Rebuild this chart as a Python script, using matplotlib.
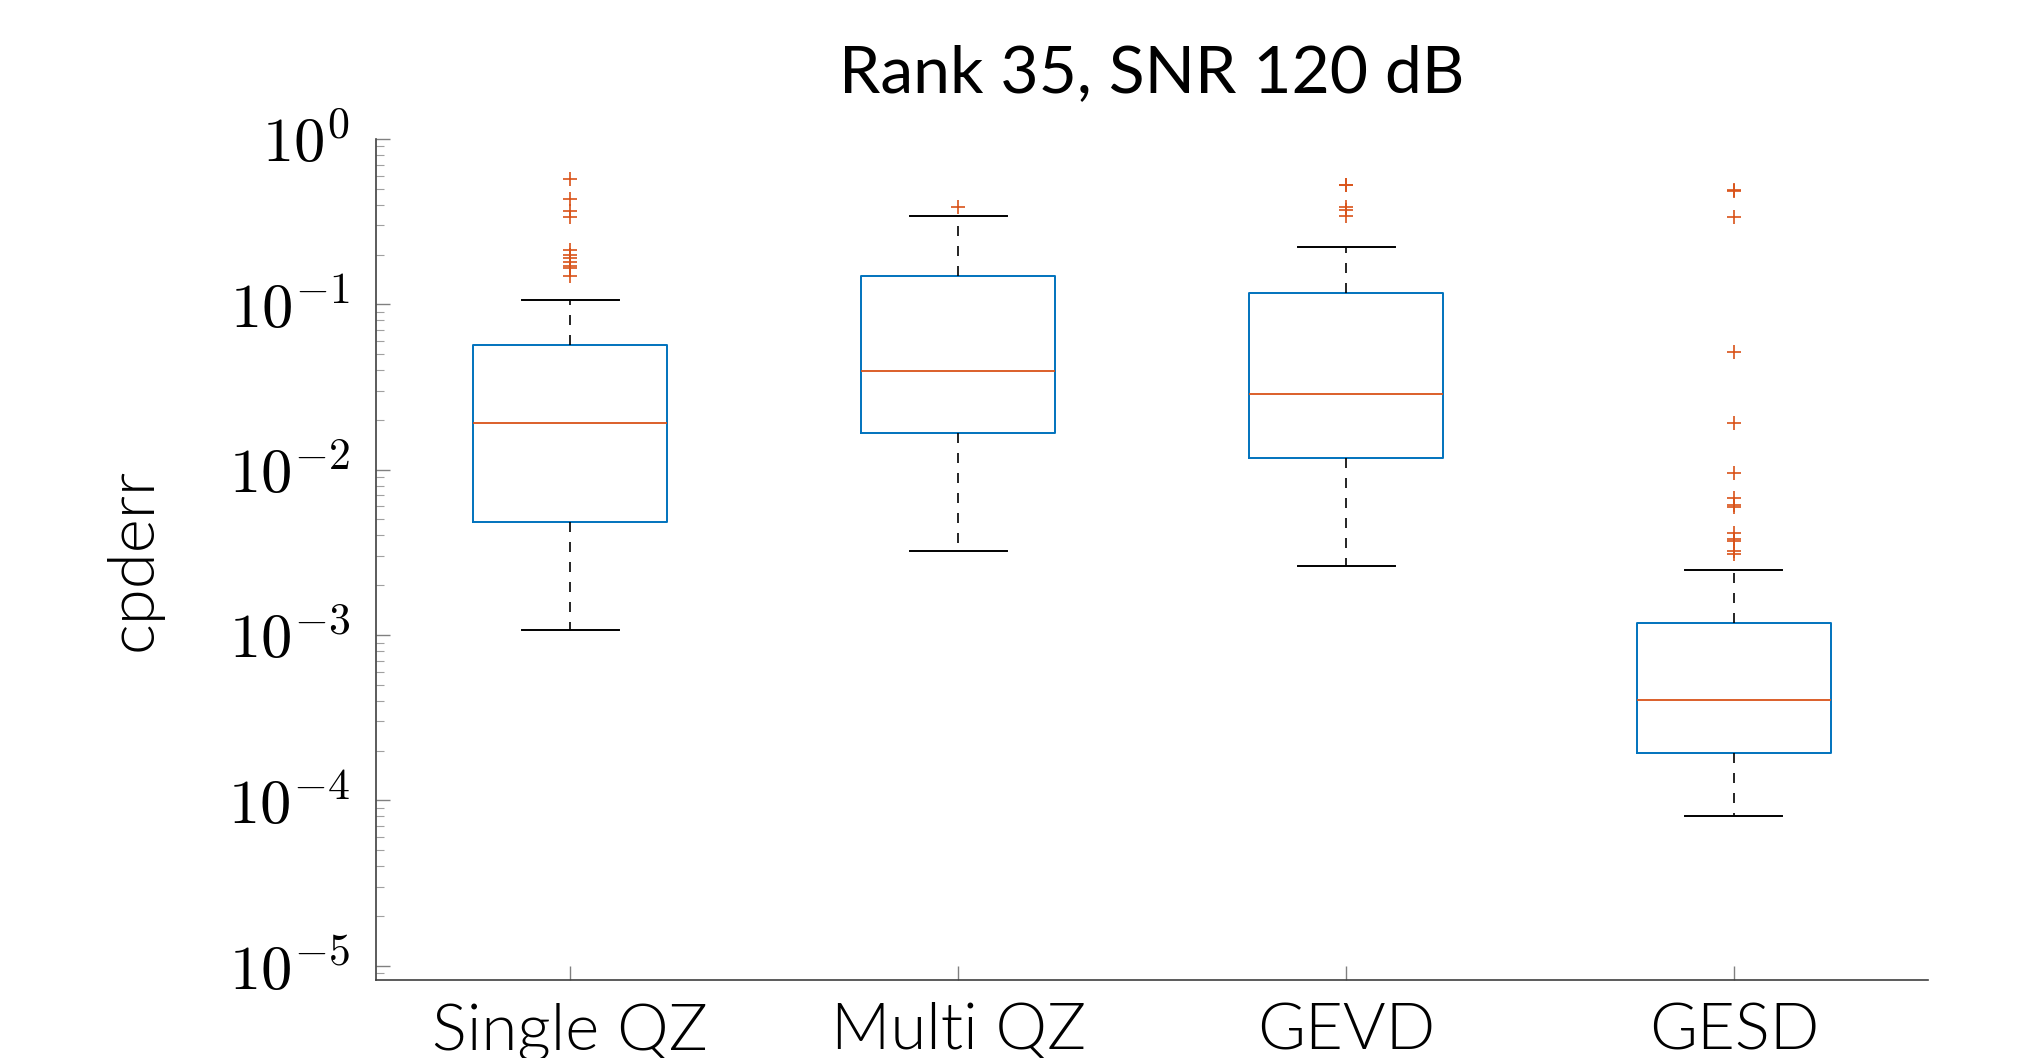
import numpy as np
import matplotlib
matplotlib.use('Agg')
import matplotlib.pyplot as plt

# Box statistics (log-scale values)
methods = ['Single QZ', 'Multi QZ', 'GEVD', 'GESD']
whislo = [1.07e-3, 3.2e-3, 2.61e-3, 8.0e-5]
q1 = [4.85e-3, 1.66e-2, 1.18e-2, 1.93e-4]
med = [1.92e-2, 3.95e-2, 2.86e-2, 4.03e-4]
q3 = [5.7e-2, 0.148, 0.117, 1.18e-3]
whishi = [0.106, 0.343, 0.222, 2.48e-3]

# outliers
fliers_single = [0.570, 0.435, 0.364, 0.336, 0.213, 0.200, 0.190, 0.181, 0.171, 0.166, 0.148]
fliers_multi = [0.386]
fliers_gevd = [0.530, 0.523, 0.390, 0.373, 0.340]
fliers_gesd = [0.491, 0.481, 0.338, 0.0512, 0.0192, 0.00951, 0.00673, 0.00608,
               0.00592, 0.00414, 0.00383, 0.00369, 0.00320, 0.00308]
fliers = [fliers_single, fliers_multi, fliers_gevd, fliers_gesd]

stats = []
for i, name in enumerate(methods):
    stats.append({'label': name, 'whislo': whislo[i], 'q1': q1[i], 'med': med[i],
                  'q3': q3[i], 'whishi': whishi[i], 'fliers': fliers[i]})

plt.rcParams['mathtext.fontset'] = 'cm'

fig = plt.figure(figsize=(20.23, 10.58), dpi=100)
ax = fig.add_axes([0.186, 0.0737, 0.767, 0.795])

blue = '#0072BD'
orange = '#D95319'
ax.bxp(stats, positions=[1, 2, 3, 4], widths=0.5, capwidths=0.25,
       boxprops=dict(color=blue, linewidth=1.4),
       medianprops=dict(color=orange, linewidth=1.3),
       whiskerprops=dict(color='black', linewidth=1.2, linestyle=(0, (6, 6))),
       capprops=dict(color='black', linewidth=1.4),
       flierprops=dict(marker='+', markeredgecolor=orange, markersize=10,
                       markeredgewidth=1.2, linestyle='none'))

ax.set_yscale('log')
ax.set_ylim(8.2e-6, 1.0)
ax.set_xlim(0.5, 4.5)
ax.set_yticks([1e-5, 1e-4, 1e-3, 1e-2, 1e-1, 1e0])
ax.set_yticklabels([r'$10^{-5}$', r'$10^{-4}$', r'$10^{-3}$', r'$10^{-2}$',
                    r'$10^{-1}$', r'$10^{0}$'], fontsize=45)
ax.set_xticks([1, 2, 3, 4])
ax.set_xticklabels(methods, family='Lato', fontweight=300, fontsize=47)

for side in ['top', 'right']:
    ax.spines[side].set_visible(False)
for side in ['left', 'bottom']:
    ax.spines[side].set_color('#404040')
    ax.spines[side].set_linewidth(1.2)

ax.tick_params(which='major', direction='in', length=10, width=1, color='#808080')
ax.tick_params(which='minor', direction='in', length=6, width=0.8, color='#a0a0a0')
ax.tick_params(axis='y', which='major', pad=19)
ax.tick_params(axis='x', which='major', pad=16)

ax.set_ylabel('cpderr', family='Lato', fontweight=300, fontsize=47)
ax.yaxis.set_label_coords(-0.138, 0.5)
ax.set_title('Rank 35, SNR 120 dB', family='Lato', fontsize=47.5, pad=34)

fig.savefig('out.png', dpi=100)
